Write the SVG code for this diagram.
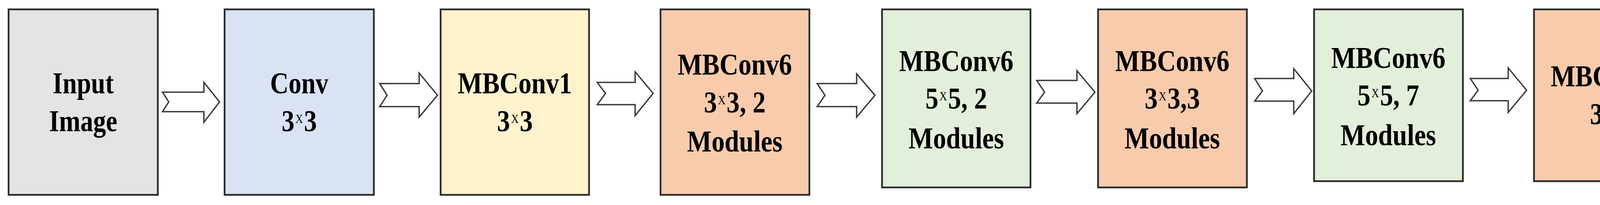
<svg xmlns="http://www.w3.org/2000/svg" width="4329" height="525" viewBox="0 0 4329 525">
<style>
.box{stroke:#2b2b2b;stroke-width:4.5}
.g{fill:#e4e4e4}.b{fill:#dae3f3}.y{fill:#fff2cc}.o{fill:#f8cbad}.gr{fill:#e2efda}
.t{font-family:"Liberation Serif","Times New Roman",serif;font-weight:bold;font-size:78px;fill:#000;text-anchor:middle}
.sup{font-weight:normal;font-size:32px}
.arr{fill:#fff;stroke:#3a3a3a;stroke-width:3.5;stroke-linejoin:miter}
</style>
<rect width="4329" height="525" fill="#fff"/>
<g id="connectors">
<path class="arr" d="M416,236 L522,236 L522,211 L562,261 L522,313 L522,286 L416,286 L432,261 Z"/>
<path class="arr" d="M972,214 L1073,214 L1073,187 L1120,244 L1073,300 L1073,273 L972,273 L991,244 Z"/>
<path class="arr" d="M1529,211 L1626,211 L1626,184 L1672,239 L1626,296 L1626,268 L1529,268 L1550,239 Z"/>
<path class="arr" d="M2092,214 L2193,214 L2193,189 L2240,244 L2193,300 L2193,273 L2092,273 L2112,244 Z"/>
<path class="arr" d="M2654,206 L2757,206 L2757,181 L2803,236 L2757,291 L2757,264 L2654,264 L2674,236 Z"/>
<path class="arr" d="M3212,201 L3312,201 L3312,176 L3358,233 L3312,291 L3312,259 L3212,259 L3232,233 Z"/>
<path class="arr" d="M3764,201 L3861,201 L3861,174 L3908,231 L3861,288 L3861,258 L3764,258 L3784,231 Z"/>
</g>
<g id="n1">
<rect class="box g" x="22" y="24" width="382" height="475"/>
<g transform="translate(213 0) scale(0.84 1)">
<text class="t" x="0" y="239">Input</text>
<text class="t" x="0" y="336">Image</text>
</g>
</g>
<g id="n2">
<rect class="box b" x="575" y="24" width="382" height="475"/>
<g transform="translate(766 0) scale(0.84 1)">
<text class="t" x="0" y="239">Conv</text>
<text class="t" x="0" y="336">3<tspan class="sup" dx="3" dy="-21">X</tspan><tspan dx="3" dy="21">3</tspan></text>
</g>
</g>
<g id="n3">
<rect class="box y" x="1128" y="24" width="380" height="475"/>
<g transform="translate(1318 0) scale(0.855 1)">
<text class="t" x="0" y="239">MBConv1</text>
<text class="t" x="0" y="336">3<tspan class="sup" dx="3" dy="-21">X</tspan><tspan dx="3" dy="21">3</tspan></text>
</g>
</g>
<g id="n4">
<rect class="box o" x="1691" y="24" width="381" height="475"/>
<g transform="translate(1881 0) scale(0.855 1)">
<text class="t" x="0" y="191">MBConv6</text>
<text class="t" x="0" y="288">3<tspan class="sup" dx="3" dy="-21">X</tspan><tspan dx="3" dy="21">3, 2</tspan></text>
<text class="t" x="0" y="388">Modules</text>
</g>
</g>
<g id="n5">
<rect class="box gr" x="2258" y="24" width="380" height="456"/>
<g transform="translate(2448 0) scale(0.855 1)">
<text class="t" x="0" y="182">MBConv6</text>
<text class="t" x="0" y="278">5<tspan class="sup" dx="3" dy="-21">X</tspan><tspan dx="3" dy="21">5, 2</tspan></text>
<text class="t" x="0" y="380">Modules</text>
</g>
</g>
<g id="n6">
<rect class="box o" x="2811" y="24" width="381" height="456"/>
<g transform="translate(3001 0) scale(0.855 1)">
<text class="t" x="0" y="182">MBConv6</text>
<text class="t" x="0" y="278">3<tspan class="sup" dx="3" dy="-21">X</tspan><tspan dx="3" dy="21">3,3</tspan></text>
<text class="t" x="0" y="380">Modules</text>
</g>
</g>
<g id="n7">
<rect class="box gr" x="3364" y="24" width="381" height="440"/>
<g transform="translate(3554 0) scale(0.855 1)">
<text class="t" x="0" y="174">MBConv6</text>
<text class="t" x="0" y="270">5<tspan class="sup" dx="3" dy="-21">X</tspan><tspan dx="3" dy="21">5, 7</tspan></text>
<text class="t" x="0" y="372">Modules</text>
</g>
</g>
<g id="n8">
<rect class="box o" x="3927" y="24" width="378" height="440"/>
<g transform="translate(4116 0) scale(0.855 1)">
<text class="t" x="0" y="221">MBConv6</text>
<text class="t" x="0" y="318">3<tspan class="sup" dx="3" dy="-21">X</tspan><tspan dx="3" dy="21">3</tspan></text>
</g>
</g>
</svg>
